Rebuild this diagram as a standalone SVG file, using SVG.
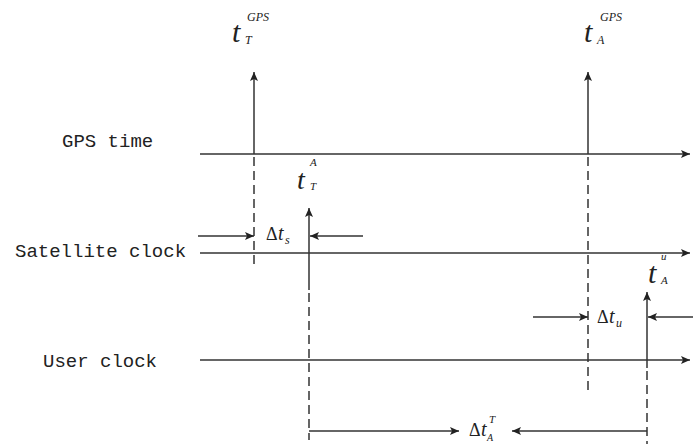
<svg xmlns="http://www.w3.org/2000/svg" width="693" height="444" viewBox="0 0 693 444">
<style>
.ln{stroke:#333;stroke-width:1.5;fill:none}
.ds{stroke:#333;stroke-width:1.5;fill:none;stroke-dasharray:9,5}
.lab{font-family:"Liberation Mono",monospace;font-size:19px;fill:#222}
.m{font-family:"Liberation Serif",serif;font-style:italic;fill:#222}
.up{font-family:"Liberation Serif",serif;fill:#222}
</style>
<defs>
<marker id="ah" markerUnits="userSpaceOnUse" markerWidth="10" markerHeight="8" refX="9" refY="4" orient="auto">
<path d="M0,0 L9,4 L0,8 L2,4 z" fill="#222"/>
</marker>
</defs>
<g id="label-gps-time"><text class="lab" x="62" y="147">GPS time</text></g>
<g id="label-satellite-clock"><text class="lab" x="15" y="257">Satellite clock</text></g>
<g id="label-user-clock"><text class="lab" x="43" y="367">User clock</text></g>
<g id="label-tT-gps"><text class="m" x="232" y="42" font-size="30">t</text><text class="m" x="245" y="44" font-size="12">T</text><text class="m" x="247" y="21" font-size="12">GPS</text></g>
<g id="label-tA-gps"><text class="m" x="584" y="42" font-size="30">t</text><text class="m" x="597" y="44" font-size="12">A</text><text class="m" x="600" y="21" font-size="12">GPS</text></g>
<g id="label-tT-A"><text class="m" x="297" y="189" font-size="28">t</text><text class="m" x="310" y="190" font-size="11">T</text><text class="m" x="310" y="166" font-size="11">A</text></g>
<g id="label-tA-u"><text class="m" x="648" y="283" font-size="30">t</text><text class="m" x="661" y="284" font-size="11">A</text><text class="m" x="661" y="260" font-size="11">u</text></g>
<g id="label-dts"><text class="up" x="266" y="240" font-size="18">Δ</text><text class="m" x="278" y="240" font-size="20">t</text><text class="m" x="285" y="244" font-size="12">s</text></g>
<g id="label-dtu"><text class="up" x="597" y="323" font-size="18">Δ</text><text class="m" x="609" y="323" font-size="20">t</text><text class="m" x="616" y="327" font-size="12">u</text></g>
<g id="label-dtAT"><text class="up" x="469" y="436" font-size="18">Δ</text><text class="m" x="481" y="436" font-size="20">t</text><text class="m" x="489" y="423" font-size="11">T</text><text class="m" x="487" y="441" font-size="10">A</text></g>
<g id="connectors">
<line class="ln" x1="200" y1="154" x2="690" y2="154" marker-end="url(#ah)"/>
<line class="ln" x1="200" y1="253" x2="690" y2="253" marker-end="url(#ah)"/>
<line class="ln" x1="200" y1="360" x2="690" y2="360" marker-end="url(#ah)"/>
<line class="ln" x1="254" y1="154" x2="254" y2="72" marker-end="url(#ah)"/>
<line class="ds" x1="254" y1="157" x2="254" y2="266"/>
<line class="ln" x1="588" y1="154" x2="588" y2="72" marker-end="url(#ah)"/>
<line class="ds" x1="588" y1="157" x2="588" y2="390"/>
<line class="ln" x1="309" y1="290" x2="309" y2="208" marker-end="url(#ah)"/>
<line class="ds" x1="309" y1="293" x2="309" y2="440"/>
<line class="ln" x1="309" y1="431" x2="459" y2="431" marker-end="url(#ah)"/>
<line class="ln" x1="647" y1="368" x2="647" y2="292" marker-end="url(#ah)"/>
<line class="ds" x1="647" y1="371" x2="647" y2="444"/>
<line class="ln" x1="647" y1="431" x2="512" y2="431" marker-end="url(#ah)"/>
<line class="ln" x1="198" y1="236" x2="254" y2="236" marker-end="url(#ah)"/>
<line class="ln" x1="363" y1="236" x2="310" y2="236" marker-end="url(#ah)"/>
<line class="ln" x1="533" y1="317" x2="588" y2="317" marker-end="url(#ah)"/>
<line class="ln" x1="693" y1="317" x2="648" y2="317" marker-end="url(#ah)"/>
</g>
</svg>
